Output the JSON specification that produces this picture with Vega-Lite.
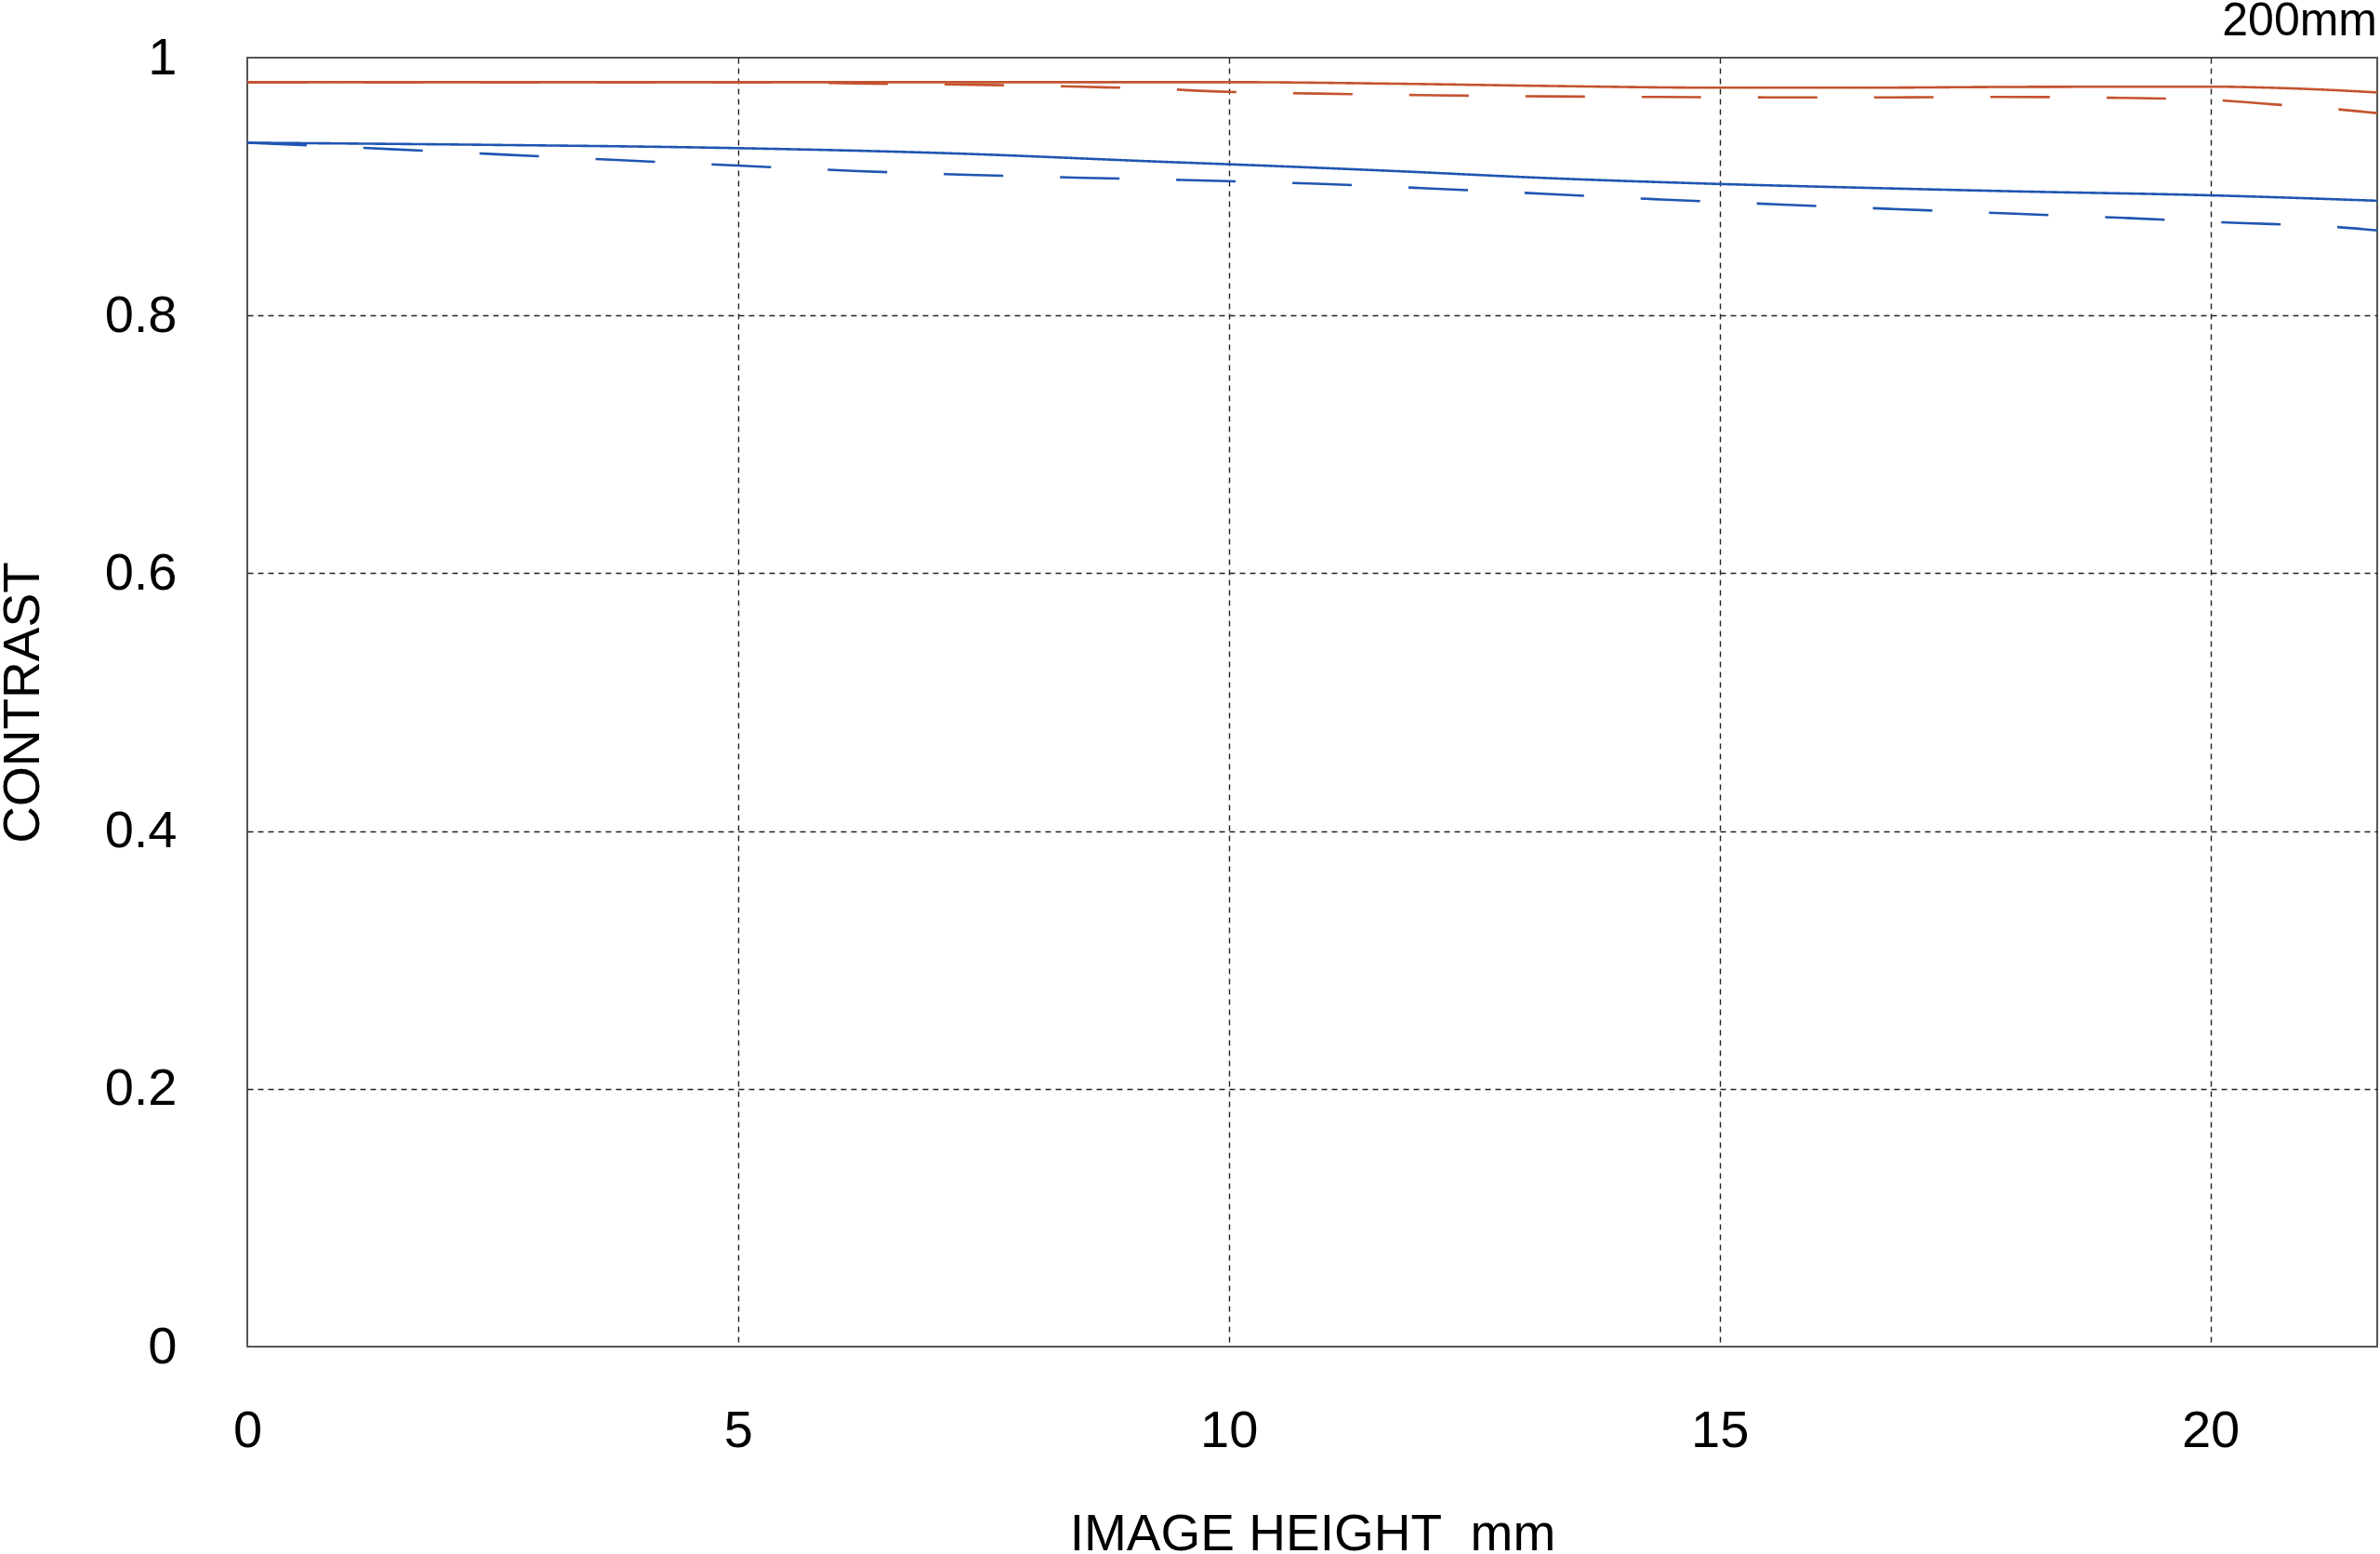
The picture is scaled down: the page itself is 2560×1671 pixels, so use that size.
{
  "$schema": "https://vega.github.io/schema/vega-lite/v6.json",
  "autosize": {"type": "none"},
  "padding": {"left": 266, "top": 62, "right": 3, "bottom": 223},
  "width": 2291,
  "height": 1386,
  "background": "white",
  "title": {"text": "200mm", "anchor": "end", "frame": "group", "fontSize": 50, "fontWeight": "normal", "font": "Liberation Sans", "color": "#000", "baseline": "alphabetic", "offset": -54},
  "config": {
    "font": "Liberation Sans",
    "view": {"stroke": "#555", "strokeWidth": 2},
    "axis": {
      "domain": false,
      "ticks": false,
      "tickSize": 0,
      "labelFont": "Liberation Sans",
      "labelFontSize": 56,
      "labelColor": "#000",
      "titleFont": "Liberation Sans",
      "titleFontSize": 55,
      "titleFontWeight": "normal",
      "titleColor": "#000",
      "gridDash": [6, 5],
      "gridWidth": 1.4
    }
  },
  "data": {"values": [
    {"x": 0, "v": 0.981, "s": "orange", "d": "solid"},
    {"x": 2, "v": 0.981, "s": "orange", "d": "solid"},
    {"x": 4, "v": 0.981, "s": "orange", "d": "solid"},
    {"x": 6, "v": 0.981, "s": "orange", "d": "solid"},
    {"x": 8, "v": 0.981, "s": "orange", "d": "solid"},
    {"x": 10, "v": 0.981, "s": "orange", "d": "solid"},
    {"x": 11.7, "v": 0.9798, "s": "orange", "d": "solid"},
    {"x": 13.3, "v": 0.978, "s": "orange", "d": "solid"},
    {"x": 15, "v": 0.9767, "s": "orange", "d": "solid"},
    {"x": 16.4, "v": 0.9767, "s": "orange", "d": "solid"},
    {"x": 18, "v": 0.9773, "s": "orange", "d": "solid"},
    {"x": 20, "v": 0.9775, "s": "orange", "d": "solid"},
    {"x": 20.6, "v": 0.9767, "s": "orange", "d": "solid"},
    {"x": 21.2, "v": 0.975, "s": "orange", "d": "solid"},
    {"x": 21.7, "v": 0.973, "s": "orange", "d": "solid"},

    {"x": 0, "v": 0.981, "s": "orange", "d": "dashed"},
    {"x": 5.5, "v": 0.981, "s": "orange", "d": "dashed"},
    {"x": 6.2, "v": 0.980, "s": "orange", "d": "dashed"},
    {"x": 7.4, "v": 0.979, "s": "orange", "d": "dashed"},
    {"x": 8.5, "v": 0.9774, "s": "orange", "d": "dashed"},
    {"x": 9.4, "v": 0.9755, "s": "orange", "d": "dashed"},
    {"x": 9.7, "v": 0.9743, "s": "orange", "d": "dashed"},
    {"x": 10.9, "v": 0.9721, "s": "orange", "d": "dashed"},
    {"x": 12.1, "v": 0.9708, "s": "orange", "d": "dashed"},
    {"x": 13.2, "v": 0.970, "s": "orange", "d": "dashed"},
    {"x": 14.4, "v": 0.9695, "s": "orange", "d": "dashed"},
    {"x": 15.6, "v": 0.9692, "s": "orange", "d": "dashed"},
    {"x": 16.8, "v": 0.9692, "s": "orange", "d": "dashed"},
    {"x": 17.9, "v": 0.9695, "s": "orange", "d": "dashed"},
    {"x": 19.1, "v": 0.9688, "s": "orange", "d": "dashed"},
    {"x": 20.0, "v": 0.9673, "s": "orange", "d": "dashed"},
    {"x": 20.6, "v": 0.964, "s": "orange", "d": "dashed"},
    {"x": 21.2, "v": 0.9606, "s": "orange", "d": "dashed"},
    {"x": 21.7, "v": 0.957, "s": "orange", "d": "dashed"},

    {"x": 0, "v": 0.934, "s": "blue", "d": "solid"},
    {"x": 2.4, "v": 0.9324, "s": "blue", "d": "solid"},
    {"x": 5, "v": 0.9298, "s": "blue", "d": "solid"},
    {"x": 7.2, "v": 0.9257, "s": "blue", "d": "solid"},
    {"x": 9.4, "v": 0.919, "s": "blue", "d": "solid"},
    {"x": 10, "v": 0.9173, "s": "blue", "d": "solid"},
    {"x": 11.7, "v": 0.912, "s": "blue", "d": "solid"},
    {"x": 13.3, "v": 0.9064, "s": "blue", "d": "solid"},
    {"x": 15, "v": 0.902, "s": "blue", "d": "solid"},
    {"x": 16.4, "v": 0.8992, "s": "blue", "d": "solid"},
    {"x": 18, "v": 0.8963, "s": "blue", "d": "solid"},
    {"x": 20, "v": 0.8932, "s": "blue", "d": "solid"},
    {"x": 21.7, "v": 0.889, "s": "blue", "d": "solid"},

    {"x": 0, "v": 0.934, "s": "blue", "d": "dashed"},
    {"x": 0.6, "v": 0.932, "s": "blue", "d": "dashed"},
    {"x": 1.46, "v": 0.929, "s": "blue", "d": "dashed"},
    {"x": 2.64, "v": 0.9247, "s": "blue", "d": "dashed"},
    {"x": 3.81, "v": 0.9204, "s": "blue", "d": "dashed"},
    {"x": 4.99, "v": 0.9163, "s": "blue", "d": "dashed"},
    {"x": 6.17, "v": 0.9122, "s": "blue", "d": "dashed"},
    {"x": 7.35, "v": 0.9091, "s": "blue", "d": "dashed"},
    {"x": 8.52, "v": 0.9068, "s": "blue", "d": "dashed"},
    {"x": 9.7, "v": 0.9048, "s": "blue", "d": "dashed"},
    {"x": 10.88, "v": 0.9022, "s": "blue", "d": "dashed"},
    {"x": 12.06, "v": 0.8985, "s": "blue", "d": "dashed"},
    {"x": 13.23, "v": 0.8943, "s": "blue", "d": "dashed"},
    {"x": 14.4, "v": 0.890, "s": "blue", "d": "dashed"},
    {"x": 15.58, "v": 0.8862, "s": "blue", "d": "dashed"},
    {"x": 16.76, "v": 0.8826, "s": "blue", "d": "dashed"},
    {"x": 17.94, "v": 0.8791, "s": "blue", "d": "dashed"},
    {"x": 19.11, "v": 0.8757, "s": "blue", "d": "dashed"},
    {"x": 20.29, "v": 0.8717, "s": "blue", "d": "dashed"},
    {"x": 21.18, "v": 0.8692, "s": "blue", "d": "dashed"},
    {"x": 21.7, "v": 0.866, "s": "blue", "d": "dashed"}
  ]},
  "mark": {"type": "line", "strokeWidth": 2.6, "interpolate": "monotone", "strokeCap": "butt", "clip": true},
  "encoding": {
    "x": {
      "field": "x", "type": "quantitative",
      "scale": {"domain": [0, 21.7], "nice": false, "zero": false},
      "axis": {
        "values": [0, 5, 10, 15, 20],
        "title": "IMAGE HEIGHT\u00a0\u00a0mm",
        "labelPadding": 63,
        "labelBaseline": "top",
        "labelFlush": false,
        "titleY": 218,
        "titleBaseline": "alphabetic",
        "gridColor": {"condition": {"test": "datum.value === 0", "value": "transparent"}, "value": "#222"}
      }
    },
    "y": {
      "field": "v", "type": "quantitative",
      "scale": {"domain": [0, 1], "nice": false},
      "axis": {
        "values": [0, 0.2, 0.4, 0.6, 0.8, 1],
        "labelExpr": "datum.value === 0 ? '0' : datum.value === 1 ? '1' : format(datum.value, '.1f')",
        "title": "CONTRAST",
        "labelPadding": 76,
        "labelFlush": false,
        "titleX": -242,
        "titleY": 693,
        "titleAngle": -90,
        "titleBaseline": "middle",
        "titleAlign": "center",
        "gridColor": {"condition": {"test": "datum.value === 0 || datum.value === 1", "value": "transparent"}, "value": "#222"}
      }
    },
    "color": {
      "field": "s", "type": "nominal",
      "scale": {"domain": ["orange", "blue"], "range": ["#C4532F", "#1F55B2"]},
      "legend": null
    },
    "strokeDash": {
      "field": "d", "type": "nominal",
      "scale": {"domain": ["solid", "dashed"], "range": [[1, 0], [64, 61]]},
      "legend": null
    },
    "detail": {"field": "d"}
  }
}
